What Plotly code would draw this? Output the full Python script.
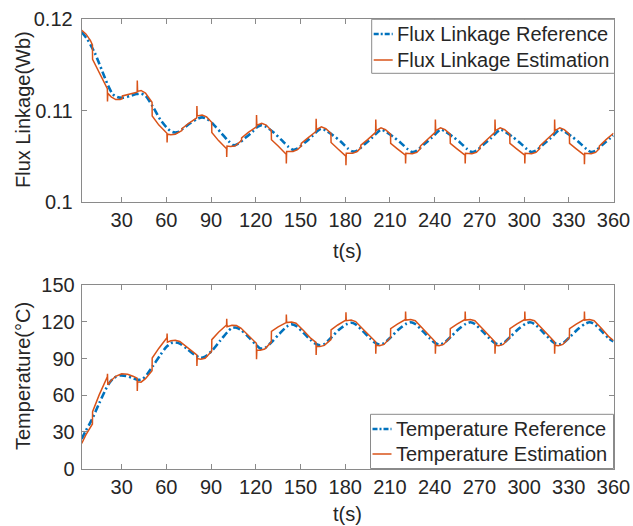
import plotly.graph_objects as go

# ---------------- data ----------------
x_ticks = [30, 60, 90, 120, 150, 180, 210, 240, 270, 300, 330, 360]
flux_ticks = [0.1, 0.11, 0.12]
flux_tick_text = ["0.1", "0.11", "0.12"]
temp_ticks = [0, 30, 60, 90, 120, 150]

flux_ref_t = [3.2, 7, 12, 17, 21, 24, 27, 31, 36, 40,
              43, 46, 51, 56, 61, 64, 67, 71, 76, 81,
              84, 87, 92, 97, 102, 105, 108, 113, 118, 121,
              124, 127, 132, 137, 142, 145, 148, 153, 158, 161,
              164, 167, 172, 177, 182, 185, 188, 193, 198, 201,
              204, 207, 212, 217, 222, 225, 228, 233, 238, 241,
              244, 247, 252, 257, 262, 265, 268, 273, 278, 281,
              284, 287, 292, 297, 302, 305, 308, 313, 318, 321,
              324, 327, 332, 337, 342, 345, 348, 353, 358, 360]
flux_ref_v = [0.1186, 0.1178, 0.1163, 0.1143, 0.1127, 0.1118, 0.11148, 0.1114, 0.1116, 0.1118,
              0.11185, 0.1116, 0.1104, 0.1090, 0.1080, 0.10765, 0.1076, 0.1080, 0.1086, 0.1091,
              0.10925, 0.1091, 0.1084, 0.1075, 0.1066, 0.1062, 0.10635, 0.1070, 0.1077, 0.1082,
              0.1084, 0.1082, 0.1076, 0.1068, 0.1060, 0.1057, 0.10585, 0.1065, 0.1072, 0.1077,
              0.1080, 0.1078, 0.10725, 0.1066, 0.1058, 0.1055, 0.1056, 0.1063, 0.1070, 0.1075,
              0.1079, 0.1077, 0.10715, 0.1065, 0.10575, 0.10545, 0.1056, 0.1063, 0.1070, 0.1075,
              0.1079, 0.1077, 0.10715, 0.1065, 0.10575, 0.10545, 0.1056, 0.1063, 0.1070, 0.1075,
              0.1079, 0.1077, 0.10715, 0.1065, 0.10575, 0.10545, 0.1056, 0.1063, 0.1070, 0.1075,
              0.1079, 0.1077, 0.10715, 0.1065, 0.10575, 0.10545, 0.1056, 0.1063, 0.1070, 0.10725]

flux_est_t = [3.2, 6, 9, 10.4, 10.5, 15, 20.4, 20.5, 20.7, 23,
              26, 29, 30.4, 30.5, 35, 40.4, 40.5, 40.7, 43, 46,
              50.4, 50.5, 55, 60.4, 60.5, 60.7, 63, 66, 70.4, 70.5,
              75, 80.4, 80.5, 80.7, 84, 87, 90.4, 90.5, 95, 100.4,
              100.5, 100.7, 103, 106, 110.4, 110.5, 115, 120.4, 120.5, 120.7,
              124, 127, 130.4, 130.5, 135, 140.4, 140.5, 140.7, 145, 148,
              150.4, 150.5, 155, 160.4, 160.5, 160.7, 164, 167, 170.4, 170.5,
              175, 180.4, 180.5, 180.7, 185, 188, 190.4, 190.5, 195, 200.4,
              200.5, 200.7, 204, 207, 210.4, 210.5, 215, 220.4, 220.5, 220.7,
              225, 228, 230.4, 230.5, 235, 240.4,
              240.5, 240.7, 244, 247, 250.4, 250.5, 255, 260.4, 260.5, 260.7,
              265, 268, 270.4, 270.5, 275, 280.4,
              280.5, 280.7, 284, 287, 290.4, 290.5, 295, 300.4, 300.5, 300.7,
              305, 308, 310.4, 310.5, 315, 320.4,
              320.5, 320.7, 324, 327, 330.4, 330.5, 335, 340.4, 340.5, 340.7,
              345, 348, 350.4, 350.5, 355, 360]
flux_est_v = [0.1188, 0.1184, 0.1177, 0.1172, 0.1156, 0.1142, 0.1124, 0.1110, 0.1119, 0.1115,
              0.1112, 0.1112, 0.1113, 0.1116, 0.1118, 0.1120, 0.1133, 0.1121, 0.1122, 0.1119,
              0.1109, 0.1094, 0.1084, 0.1075, 0.1065, 0.1074, 0.10735, 0.1074, 0.1078, 0.1080,
              0.1086, 0.1092, 0.1105, 0.1094, 0.1095, 0.1093, 0.1087, 0.1076, 0.1067, 0.1058,
              0.1049, 0.1061, 0.10605, 0.1061, 0.1067, 0.1070, 0.1076, 0.1082, 0.1095, 0.1084,
              0.1086, 0.1084, 0.1078, 0.1068, 0.1061, 0.1052, 0.1042, 0.1055, 0.1055, 0.1057,
              0.1061, 0.1064, 0.1070, 0.1077, 0.1091, 0.1079, 0.1082, 0.1080, 0.1075, 0.1065,
              0.1058, 0.1050, 0.1040, 0.1053, 0.1053, 0.1055, 0.1059, 0.1062, 0.1068, 0.1076,
              0.1090, 0.1078, 0.1081, 0.1079, 0.1074, 0.1064, 0.1058, 0.1051, 0.1042, 0.1053,
              0.10525, 0.1054, 0.1058, 0.1061, 0.1068, 0.1076,
              0.1090, 0.1078, 0.1081, 0.1079, 0.1074, 0.1064, 0.1058, 0.1051, 0.1042, 0.1053,
              0.10525, 0.1054, 0.1058, 0.1061, 0.1068, 0.1076,
              0.1090, 0.1078, 0.1081, 0.1079, 0.1074, 0.1064, 0.1058, 0.1051, 0.1042, 0.1053,
              0.10525, 0.1054, 0.1058, 0.1061, 0.1068, 0.1076,
              0.1090, 0.1078, 0.1081, 0.1079, 0.1074, 0.1064, 0.1058, 0.1051, 0.1041, 0.1053,
              0.10525, 0.1054, 0.1058, 0.1061, 0.1068, 0.1075]

temp_ref_t = [3.2, 6, 10, 15, 19, 22, 25, 29, 33, 37,
              41, 44, 47, 51, 56, 60, 63, 66, 69, 74,
              79, 83, 86, 91, 96, 101, 104, 107, 110, 115,
              120, 123, 126, 131, 136, 141, 144, 147, 152, 157,
              160, 163, 166, 171, 176, 181, 184, 187, 192, 197,
              200, 203, 206, 211, 216, 221, 224, 227, 232, 237,
              240, 243, 246, 251, 256, 261, 264, 267, 272, 277,
              280, 283, 286, 291, 296, 301, 304, 307, 312, 317,
              320, 323, 326, 331, 336, 341, 344, 347, 352, 357,
              360]
temp_ref_v = [24.3, 31, 40, 53.5, 64, 70.5, 74.3, 76.2, 75.8, 74.2,
              72.6, 73.2, 77, 84, 93, 99.5, 102.6, 103.2, 102.3, 97.8,
              93, 90.6, 91.5, 97, 104.5, 111.8, 115, 115.3, 113.5, 107.8,
              101.5, 98.3, 98.6, 104, 110.5, 116.3, 118, 116.8, 111, 105,
              102.2, 100.9, 101.9, 107.7, 113.8, 118.2, 119.3, 118, 112.3, 106.2,
              103, 101.5, 102.5, 108, 114, 118.5, 119.7, 118.3, 112.5, 106.3,
              103, 101.5, 102.5, 108, 114, 118.5, 119.7, 118.3, 112.5, 106.3,
              103, 101.5, 102.5, 108, 114, 118.5, 119.7, 118.3, 112.5, 106.3,
              103, 101.5, 102.5, 108, 114, 118.5, 119.7, 118.3, 112.5, 106.3,
              104]

temp_est_t = [3.2, 6, 10.4, 10.5, 15, 20.4, 20.5, 20.7, 23, 26,
              30, 34, 38, 40.4, 40.5, 40.7, 43, 46, 50.4, 50.5,
              55, 60.4, 60.5, 60.7, 63, 66, 69, 74, 78, 80.4,
              80.5, 80.7, 83, 86, 90.4, 90.5, 95, 100.4, 100.5, 100.7,
              104, 107, 110, 115, 120.4, 120.5, 120.7, 123, 126, 130.4,
              130.5, 135, 140.4, 140.5, 140.7, 144, 147, 152, 157, 160.4,
              160.5, 160.7, 163, 166, 170.4, 170.5, 175, 180.4, 180.5, 180.7,
              184, 187, 192, 197, 200.4,
              200.5, 200.7, 203, 206, 210.4, 210.5, 215, 220.4, 220.5, 220.7,
              224, 227, 232, 237, 240.4,
              240.5, 240.7, 243, 246, 250.4, 250.5, 255, 260.4, 260.5, 260.7,
              264, 267, 272, 277, 280.4,
              280.5, 280.7, 283, 286, 290.4, 290.5, 295, 300.4, 300.5, 300.7,
              304, 307, 312, 317, 320.4,
              320.5, 320.7, 323, 326, 330.4, 330.5, 335, 340.4, 340.5, 340.7,
              344, 347, 352, 357, 360]
temp_est_v = [20.5, 27.5, 36.5, 46.5, 60.5, 75, 77.5, 68.5, 72, 75.5,
              77.6, 77.2, 75.3, 74, 63.5, 71, 70.7, 73.6, 80, 90.5,
              98.5, 107, 110.5, 103.5, 104.6, 105, 104, 99.5, 95.3, 93,
              84, 90, 89.5, 90.3, 96, 105.5, 111.5, 117.5, 122.5, 116,
              117.3, 117, 115, 109.3, 102.5, 89.5, 97, 96.8, 97.8, 103.5,
              112.3, 116, 119.5, 126, 119.5, 120, 119, 113, 106.5, 103.3,
              93, 100, 99.8, 100.8, 105.5, 113.5, 117.5, 121.5, 128, 121,
              121.5, 120.3, 114, 107.5, 103.8,
              94, 101, 100.6, 101.6, 107.3, 114.5, 118.3, 122, 128.5, 121.5,
              122, 121, 114.6, 107.7, 103.8,
              94, 101, 100.6, 101.6, 107.3, 114.5, 118.3, 122, 128.5, 121.5,
              122, 121, 114.6, 107.7, 103.8,
              94, 101, 100.6, 101.6, 107.3, 114.5, 118.3, 122, 128.5, 121.5,
              122, 121, 114.6, 107.7, 103.8,
              94, 101, 100.6, 101.6, 107.3, 114.5, 118.3, 122, 128.5, 121.5,
              122, 121, 114.6, 107.7, 104.8]

# ---------------- styling ----------------
W, H = 633, 526
BLUE = "#0072BD"
ORANGE = "#D95319"
TXT = "#262626"
AX = "#8a8a8a"
FONT = "Liberation Sans, Arial, sans-serif"
BLUE_DASH = "7px,3px,2px,3px"


def px(x):
    return x / W


def py(y):
    return 1 - y / H


fig = go.Figure()

fig.add_trace(go.Scatter(x=flux_ref_t, y=flux_ref_v, mode="lines", name="Flux Linkage Reference",
                         line=dict(color=BLUE, width=2.6, dash=BLUE_DASH, shape="spline", smoothing=0.8),
                         xaxis="x", yaxis="y", showlegend=False))
fig.add_trace(go.Scatter(x=flux_est_t, y=flux_est_v, mode="lines", name="Flux Linkage Estimation",
                         line=dict(color=ORANGE, width=1.5),
                         xaxis="x", yaxis="y", showlegend=False))
fig.add_trace(go.Scatter(x=temp_ref_t, y=temp_ref_v, mode="lines", name="Temperature Reference",
                         line=dict(color=BLUE, width=2.6, dash=BLUE_DASH, shape="spline", smoothing=0.8),
                         xaxis="x2", yaxis="y2", showlegend=False))
fig.add_trace(go.Scatter(x=temp_est_t, y=temp_est_v, mode="lines", name="Temperature Estimation",
                         line=dict(color=ORANGE, width=1.5),
                         xaxis="x2", yaxis="y2", showlegend=False))

xdom = [px(81.7), px(613.5)]
axis_common = dict(showline=True, linecolor=AX, linewidth=1, mirror="ticks",
                   ticks="inside", ticklen=5, tickcolor=AX, tickwidth=1,
                   showgrid=False, zeroline=False, automargin=False,
                   tickfont=dict(family=FONT, size=20, color=TXT))

fig.update_layout(
    width=W, height=H,
    margin=dict(l=0, r=0, t=0, b=0),
    paper_bgcolor="white", plot_bgcolor="white",
    showlegend=False,
    xaxis=dict(domain=xdom, anchor="y", range=[3.2, 360], tickvals=x_ticks, **axis_common),
    yaxis=dict(domain=[py(201.7), py(19.3)], anchor="x", range=[0.1, 0.12],
               tickvals=flux_ticks, ticktext=flux_tick_text, ticklabelstandoff=4, **axis_common),
    xaxis2=dict(domain=xdom, anchor="y2", range=[3.2, 360], tickvals=x_ticks, **axis_common),
    yaxis2=dict(domain=[py(468.5), py(285.3)], anchor="x2", range=[0, 150],
                tickvals=temp_ticks, ticklabelstandoff=2, **axis_common),
)

# axis titles
ann = []
ann.append(dict(text="Flux Linkage(Wb)", x=px(23), y=py(110), textangle=-90))
ann.append(dict(text="t(s)", x=px(347.6), y=py(251)))
ann.append(dict(text="Temperature(°C)", x=px(23), y=py(376), textangle=-90))
ann.append(dict(text="t(s)", x=px(347.6), y=py(514)))

# legend boxes (drawn as shapes + text)
legends = [
    (371.7, 614.5, 19.3, 73.3, 34, 60, "Flux Linkage Reference", "Flux Linkage Estimation"),
    (370.5, 613.5, 414.3, 468.5, 429, 454, "Temperature Reference", "Temperature Estimation"),
]
shapes = []
for x0, x1, y0, y1, r1, r2, t1, t2 in legends:
    shapes.append(dict(type="rect", xref="paper", yref="paper", x0=px(x0), x1=px(x1),
                       y0=py(y1), y1=py(y0), line=dict(color=AX, width=1), fillcolor="white"))
    shapes.append(dict(type="line", xref="paper", yref="paper", x0=px(x0 + 2), x1=px(x0 + 21),
                       y0=py(r1), y1=py(r1), line=dict(color=BLUE, width=2.6, dash="5px,2px,2px,2px")))
    shapes.append(dict(type="line", xref="paper", yref="paper", x0=px(x0 + 2), x1=px(x0 + 21),
                       y0=py(r2), y1=py(r2), line=dict(color=ORANGE, width=1.5)))
    ann.append(dict(text=t1, x=px(x0 + 23), y=py(r1), xanchor="left"))
    ann.append(dict(text=t2, x=px(x0 + 23), y=py(r2), xanchor="left"))

annotations = []
for a in ann:
    base = dict(xref="paper", yref="paper", showarrow=False, xanchor="center", yanchor="middle",
                font=dict(family=FONT, size=20, color=TXT))
    base.update(a)
    annotations.append(base)

fig.update_layout(shapes=shapes, annotations=annotations)

# remove the default 8px page margin so the 633x526 figure fills the window exactly
fig.write_html("out.html",
               config={"displayModeBar": False},
               post_script="document.body.style.margin='0';document.body.style.padding='0';"
                           "document.documentElement.style.overflow='hidden';")
